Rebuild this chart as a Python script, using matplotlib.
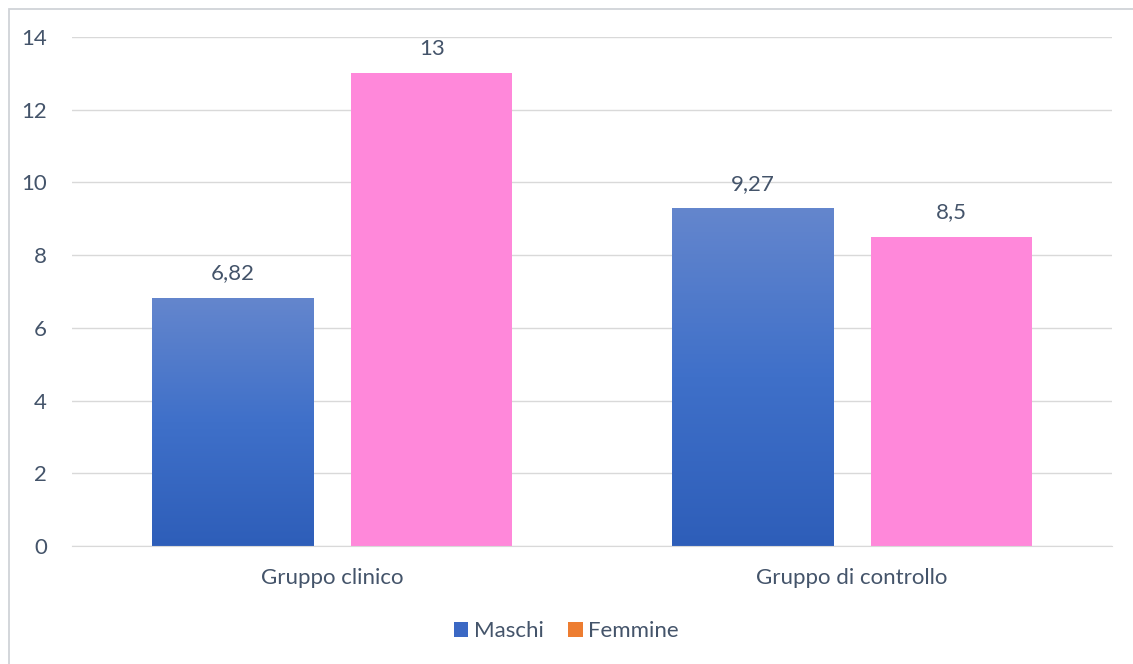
import matplotlib.pyplot as plt
import numpy as np
from matplotlib.colors import LinearSegmentedColormap
from matplotlib.patches import Patch, Rectangle

plt.rcParams['font.family'] = ['Lato', 'DejaVu Sans']

categories = ["Gruppo clinico", "Gruppo di controllo"]
maschi = [6.82, 9.27]
femmine = [13, 8.5]
maschi_labels = ["6,82", "9,27"]
femmine_labels = ["13", "8,5"]
yticks = [0, 2, 4, 6, 8, 10, 12, 14]

text_color = "#44546A"
grid_color = "#D9D9D9"
pink = "#FF88DA"
blue_cmap = LinearSegmentedColormap.from_list("blu", ["#2E5EB9", "#3F70C9", "#6486CD"])
fs = 16

fig = plt.figure(figsize=(11.33, 6.64), dpi=100)
# outer chart border (only left/top visible in the reference)
fig.patches.append(Rectangle((8.5 / 1133, -0.1), 1.2, (664 - 8.5) / 664 + 0.1,
                             transform=fig.transFigure, fill=False,
                             edgecolor="#D0D3D8", lw=1.3))
ax = fig.add_axes([72 / 1133, (664 - 546) / 664, 1040 / 1133, 509 / 664])

x = np.arange(len(categories))
w = 0.31
gap = 0.073
off = (w + gap) / 2

bars_m = ax.bar(x - off, maschi, w, color="none", zorder=2)
bars_f = ax.bar(x + off, femmine, w, color=pink, zorder=2)

# vertical gradient on the blue bars
grad = np.linspace(0, 1, 256).reshape(-1, 1)
for b in bars_m:
    x0, y0 = b.get_x(), b.get_y()
    ax.imshow(grad, cmap=blue_cmap, origin="lower", aspect="auto",
              extent=(x0, x0 + b.get_width(), y0, y0 + b.get_height()), zorder=2)

for b, lab in zip(bars_m, maschi_labels):
    ax.text(b.get_x() + b.get_width() / 2, b.get_height() + 0.4, lab,
            ha="center", va="bottom", fontsize=fs, color=text_color)
for b, lab in zip(bars_f, femmine_labels):
    ax.text(b.get_x() + b.get_width() / 2, b.get_height() + 0.4, lab,
            ha="center", va="bottom", fontsize=fs, color=text_color)

ax.set_xlim(-0.5, 1.5)
ax.set_ylim(0, 14)
ax.set_yticks(yticks)
ax.set_xticks(x)
ax.set_xticklabels(categories)
ax.tick_params(axis="both", length=0, labelsize=fs, labelcolor=text_color)
ax.tick_params(axis="y", pad=18)
ax.tick_params(axis="x", pad=16)
ax.grid(axis="y", color=grid_color, lw=1, zorder=0)
ax.set_axisbelow(True)
for s in ["top", "right", "left"]:
    ax.spines[s].set_visible(False)
ax.spines["bottom"].set_color(grid_color)

handles = [Patch(facecolor="#3B68C4", label="Maschi"),
           Patch(facecolor="#ED7D31", label="Femmine")]
fig.legend(handles=handles, loc="center", bbox_to_anchor=(0.5, (664 - 631) / 664),
           ncol=2, frameon=False, fontsize=fs, labelcolor=text_color,
           handlelength=0.65, handleheight=0.65, handletextpad=0.25, columnspacing=1.1)

fig.savefig("out.png", dpi=100, facecolor="white")
